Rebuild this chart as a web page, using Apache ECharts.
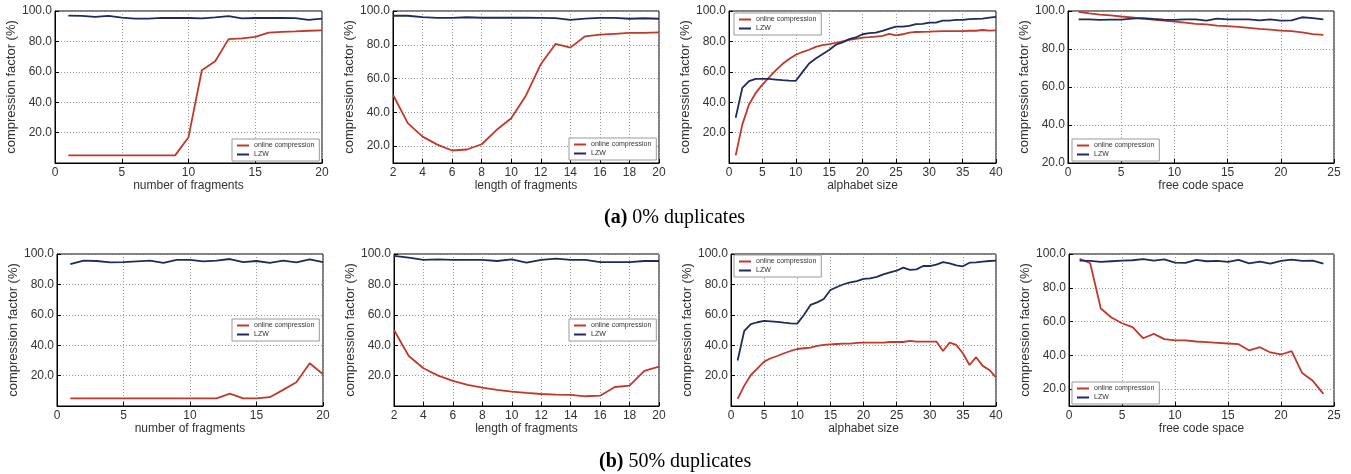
<!DOCTYPE html>
<html><head><meta charset="utf-8">
<script src="https://cdn.jsdelivr.net/npm/echarts@6/dist/echarts.min.js"></script>
<style>html,body{margin:0;padding:0;background:#fff}#c{width:1351px;height:474px}</style>
</head><body><div id="c"></div>
<script>
// ---- data ----
const seriesNames = ['online compression', 'LZW'];
const yAxisName = 'compression factor (%)';
const xNames = ['number of fragments', 'length of fragments', 'alphabet size', 'free code space'];

const xFragNum = [1,2,3,4,5,6,7,8,9,10,11,12,13,14,15,16,17,18,19,20];
const xFragLen = [2,3,4,5,6,7,8,9,10,11,12,13,14,15,16,17,18,19,20];
const xAlpha = [1,2,3,4,5,6,7,8,9,10,11,12,13,14,15,16,17,18,19,20,21,22,23,24,25,26,27,28,29,30,31,32,33,34,35,36,37,38,39,40];
const xFree = [1,2,3,4,5,6,7,8,9,10,11,12,13,14,15,16,17,18,19,20,21,22,23,24];

// (a) 0% duplicates
const a1Online = [5,5,5,5,5,5,5,5,5,17,61,67,81.5,82,83,85.8,86.3,86.6,87,87.2];
const a1LZW = [97,96.8,96.2,96.8,95.6,95,95,95.5,95.4,95.4,95.2,95.8,96.6,95.2,95.4,95.4,95.4,95.3,94.2,95];
const a2Online = [50.4,33.6,25.6,20.9,17.4,18,21.1,29.5,36.5,50,68.5,80.5,78.3,85,86,86.5,87,87.1,87.3];
const a2LZW = [97.2,97.2,96.4,95.9,95.9,96.3,96,96,96,96,95.9,95.8,94.7,95.5,95.9,95.9,95.4,95.7,95.4];
const a3Online = [5,25.4,38.5,46.1,51.6,56.4,60.9,65.1,68.4,71.2,73,74.5,76.4,77.5,78.2,79,80,81,81.7,82.5,82.8,83.2,83.6,85,84,84.7,85.8,86.2,86.3,86.4,86.6,86.7,86.7,86.8,86.8,87,87,87.5,87.1,87.3];
const a3LZW = [29.8,49.4,53.8,55.3,55.3,55.3,54.9,54.5,54.2,54,59.8,65.5,68.8,71.6,74.3,77.8,79.3,81.5,82.6,84.7,85.4,85.8,86.9,88.4,89.7,89.7,90.2,91.3,91.5,92.4,92.4,93.7,93.7,94.1,94.1,94.6,94.8,95,95.6,96.1];
const a4Online = [99.6,98.8,98.1,97.7,97.1,96.6,96,95.5,95,94.4,93.9,93.2,93,92.3,92,91.6,91.1,90.6,90.2,89.7,89.4,88.8,87.8,87.4];
const a4LZW = [95.6,95.6,95.3,95.5,95.5,96,96.2,95.8,95.5,95.3,95.6,95.6,94.9,96,95.6,95.6,95.6,95.1,95.6,94.9,95.1,96.7,96.2,95.6];

// (b) 50% duplicates
const b1Online = [5,5,5,5,5,5,5,5,5,5,5,5,8.2,5,5,5.8,10.6,15.6,28.1,20.9];
const b1LZW = [93.4,95.6,95.4,94.5,94.7,95.2,95.6,94.1,96.1,96.1,95.2,95.6,96.7,94.7,95.4,94.1,95.6,94.5,96.5,94.7];
const b2Online = [50,32.9,24.8,20,16.5,13.9,12.1,10.6,9.5,8.6,7.9,7.5,7.3,6.4,6.8,12.5,13.4,23.1,25.9];
const b2LZW = [98.7,97.6,96.1,96.5,96.1,96.1,96.1,95.4,96.5,94.3,96.1,97,96.1,96.1,94.7,94.7,94.7,95.4,95.4];
const b3Online = [4.7,13.4,20.4,24.8,29.2,31.4,32.9,34.7,36.2,37.5,38,38.4,39.5,40.2,40.6,40.8,41,41,41.5,41.7,41.7,41.7,41.7,42.1,42.1,42.1,42.8,42.4,42.4,42.4,42.4,36.2,41.7,40.2,34.7,27,32.1,26.4,23.7,18.9];
const b3LZW = [29.9,49.4,53.8,55.1,56,55.7,55.3,54.8,54.4,54.2,59.9,66.5,68.2,70.4,76.3,78.3,80.1,81.4,82.2,83.6,84,84.9,86.6,87.9,89,91,89.5,89.9,92.1,92.1,93,94.7,93.9,92.5,91.9,94.3,94.5,95,95.4,95.6];
const b4Online = [97.2,94.5,67.7,62.4,59,56.7,50.1,52.7,49.6,48.8,48.8,48.2,47.8,47.4,47,46.6,42.9,44.8,41.7,40.5,42.5,29.5,24.9,17.2];
const b4LZW = [96.1,95.9,95.3,95.7,96.1,96.3,97,96.1,96.8,94.9,94.7,96.5,95.7,95.9,95.3,96.5,94.5,95.5,94.3,95.9,96.7,95.9,96.1,94.3];

const yTicks = [20, 40, 60, 80, 100];
const captionA = ['(a)', ' 0% duplicates'];
const captionB = ['(b)', ' 50% duplicates'];

// ---- layout / panels ----
const panels = [
  {g:{left:55,top:11,width:267,height:152}, x:xFragNum, on:a1Online, lz:a1LZW, xmin:0, xmax:20, xint:5, ymin:0, xname:0, leg:{left:232,top:139}},
  {g:{left:393,top:11,width:266,height:152}, x:xFragLen, on:a2Online, lz:a2LZW, xmin:2, xmax:20, xint:2, ymin:10, xname:1, leg:{left:569,top:138}},
  {g:{left:729,top:11,width:267,height:152}, x:xAlpha, on:a3Online, lz:a3LZW, xmin:0, xmax:40, xint:5, ymin:0, xname:2, leg:{left:734,top:13}},
  {g:{left:1068,top:11,width:266,height:152}, x:xFree, on:a4Online, lz:a4LZW, xmin:0, xmax:25, xint:5, ymin:20, xname:3, leg:{left:1072,top:139}},
  {g:{left:57,top:254,width:266,height:152}, x:xFragNum, on:b1Online, lz:b1LZW, xmin:0, xmax:20, xint:5, ymin:0, xname:0, leg:{left:232,top:319}},
  {g:{left:394,top:254,width:265,height:152}, x:xFragLen, on:b2Online, lz:b2LZW, xmin:2, xmax:20, xint:2, ymin:0, xname:1, leg:{left:569,top:319}},
  {g:{left:731,top:254,width:265,height:152}, x:xAlpha, on:b3Online, lz:b3LZW, xmin:0, xmax:40, xint:5, ymin:0, xname:2, leg:{left:734,top:255}},
  {g:{left:1069,top:254,width:265,height:152}, x:xFree, on:b4Online, lz:b4LZW, xmin:0, xmax:25, xint:5, ymin:10, xname:3, leg:{left:1072,top:382}}
];

const RED = '#bf3a2b', BLUE = '#1f2b5c';
const FONT = 'Liberation Sans, Arial, sans-serif';
const grid = [], xAxis = [], yAxis = [], series = [], legend = [];
const gridLine = {show:true, lineStyle:{color:'#9a9a9a', type:[1,2], width:1}};

panels.forEach((p, i) => {
  grid.push(Object.assign({show:true, borderColor:'#000', borderWidth:1, backgroundColor:'transparent'}, p.g));
  xAxis.push({
    type:'value', gridIndex:i, min:p.xmin, max:p.xmax, interval:p.xint,
    name:xNames[p.xname], nameLocation:'middle', nameGap:16,
    nameTextStyle:{fontFamily:FONT, fontSize:12, color:'#333'},
    axisLine:{show:true, lineStyle:{color:'#000'}},
    axisTick:{show:true, inside:true, length:4, lineStyle:{color:'#000'}},
    axisLabel:{fontFamily:FONT, fontSize:12, color:'#333', margin:4},
    splitLine:gridLine
  });
  const y = {
    type:'value', gridIndex:i, min:p.ymin, max:100,
    name:yAxisName, nameLocation:'middle', nameGap:32, nameRotate:90,
    nameTextStyle:{fontFamily:FONT, fontSize:13, color:'#333'},
    axisLine:{show:true, lineStyle:{color:'#000'}},
    axisTick:{show:true, inside:true, length:4, lineStyle:{color:'#000'}},
    axisLabel:{fontFamily:FONT, fontSize:12, color:'#333', margin:3,
      showMinLabel: p.ymin === 20, formatter: v => v.toFixed(1)},
    splitLine:gridLine
  };
  if (p.ymin % 20 === 0) { y.interval = 20; }
  else { y.axisTick.customValues = yTicks; y.axisLabel.customValues = yTicks; y.axisLabel.showMinLabel = true; }
  yAxis.push(y);
  series.push({type:'line', name:seriesNames[0], xAxisIndex:i, yAxisIndex:i, symbol:'none',
    lineStyle:{color:RED, width:1.8}, itemStyle:{color:RED},
    data:p.x.map((xv, k) => [xv, p.on[k]])});
  series.push({type:'line', name:seriesNames[1], xAxisIndex:i, yAxisIndex:i, symbol:'none',
    lineStyle:{color:BLUE, width:1.8}, itemStyle:{color:BLUE},
    data:p.x.map((xv, k) => [xv, p.lz[k]])});
  legend.push({
    left:p.leg.left, top:p.leg.top, orient:'vertical', data:seriesNames,
    icon:'rect', itemWidth:12, itemHeight:2, itemGap:2, itemTextGap:6, padding:[3,5,3,5],
    backgroundColor:'#fff', borderColor:'#999', borderWidth:1, borderRadius:0,
    textStyle:{fontFamily:FONT, fontSize:7, color:'#333'}, selectedMode:false, z:10
  });
});

const SERIF = 'Liberation Serif, Times New Roman, serif';
const capRich = {b:{fontFamily:SERIF, fontSize:20, fontWeight:'bold', color:'#000'},
                 n:{fontFamily:SERIF, fontSize:20, fontWeight:'normal', color:'#000'}};
const title = [
  {text:'{b|' + captionA[0] + '}{n|' + captionA[1] + '}', left:604, top:208, padding:0, textStyle:{rich:capRich}},
  {text:'{b|' + captionB[0] + '}{n|' + captionB[1] + '}', left:599, top:452, padding:0, textStyle:{rich:capRich}}
];

const chart = echarts.init(document.getElementById('c'), null, {renderer:'canvas'});
chart.setOption({animation:false, backgroundColor:'#fff', title, grid, xAxis, yAxis, series, legend});
</script></body></html>
